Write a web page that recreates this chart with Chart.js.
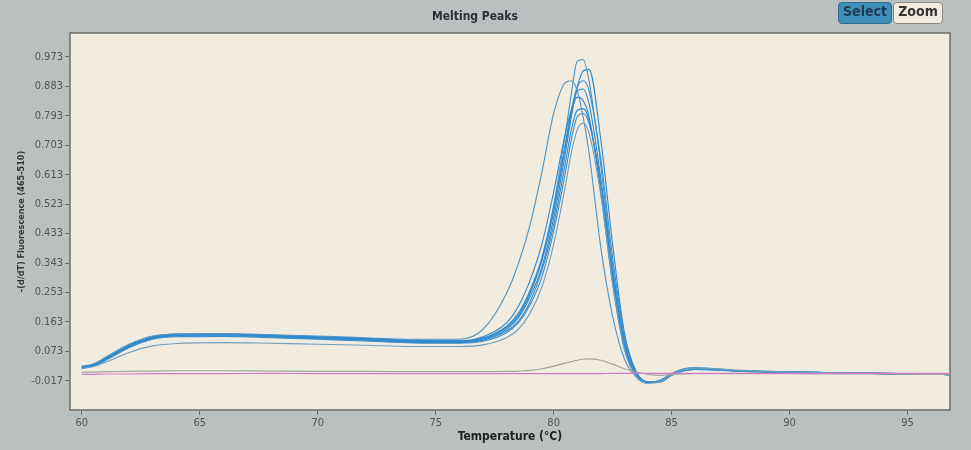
<!DOCTYPE html>
<html>
<head>
<meta charset="utf-8">
<script src="https://cdn.jsdelivr.net/npm/chart.js@4.4.1/dist/chart.umd.min.js"></script>
<style>
  html, body { margin: 0; padding: 0; background: #b9c0bf; }
  #wrap { position: relative; width: 971px; height: 450px; }
  canvas { display: block; }
  .btn {
    position: absolute; top: 2px; height: 20px; line-height: 20px;
    font: bold 14px "DejaVu Sans Condensed", "Liberation Sans Narrow", sans-serif;
    border-radius: 4px; text-align: center; color: #1d3a55;
  }
  #selectBtn { left: 838px; width: 52px; background: #3f8fb8; border: 1px solid #2f6f90; }
  #zoomBtn { left: 893px; width: 48px; background: #f2ece2; border: 1px solid #8a8a80; color: #333; }
</style>
</head>
<body>
<div id="wrap">
  <canvas id="meltChart" width="971" height="450"></canvas>
  <div class="btn" id="selectBtn">Select</div>
  <div class="btn" id="zoomBtn">Zoom</div>
</div>
<script>
// ---------------- DATA ----------------
const temps = [60, 60.5, 61, 62, 63, 64, 66, 68, 70, 72, 74, 76, 77, 78, 78.5, 79, 79.5, 80, 80.5, 80.75,
  81, 81.25, 81.5, 82, 82.5, 83, 83.5, 84, 84.5, 85, 85.5, 86, 88, 90, 92, 94, 96, 96.8];

const yTicks = [0.973, 0.883, 0.793, 0.703, 0.613, 0.523, 0.433, 0.343, 0.253, 0.163, 0.073, -0.017];
const xTicks = [60, 65, 70, 75, 80, 85, 90, 95];

// sample curves (blue)
const s1 = [0.025, 0.032, 0.05, 0.09, 0.117, 0.125, 0.126, 0.122, 0.117, 0.112, 0.106,
  0.106, 0.114, 0.15, 0.19, 0.26, 0.36, 0.52, 0.74, 0.86, 0.96, 0.965, 0.90, 0.64, 0.33, 0.10, 0.005, -0.022,
  -0.018, 0.003, 0.016, 0.02, 0.013, 0.01, 0.008, 0.006, 0.003, 0.002];
const s2 = [0.022, 0.03, 0.048, 0.088, 0.114, 0.122, 0.123, 0.119, 0.114, 0.109, 0.103,
  0.103, 0.11, 0.14, 0.175, 0.24, 0.33, 0.48, 0.68, 0.79, 0.88, 0.93, 0.935, 0.72, 0.40, 0.13, 0.012, -0.02,
  -0.02, 0.0, 0.014, 0.019, 0.013, 0.01, 0.008, 0.005, 0.003, 0.002];
const s3 = [0.028, 0.035, 0.055, 0.095, 0.12, 0.126, 0.127, 0.124, 0.12, 0.115, 0.11,
  0.11, 0.14, 0.25, 0.34, 0.46, 0.62, 0.80, 0.895, 0.9, 0.87, 0.79, 0.68, 0.39, 0.18, 0.05, -0.005, -0.02,
  -0.015, 0.006, 0.02, 0.024, 0.015, 0.011, 0.008, 0.006, 0.004, 0.003];
const s4 = [0.024, 0.031, 0.049, 0.089, 0.116, 0.124, 0.125, 0.121, 0.116, 0.111, 0.105,
  0.104, 0.112, 0.145, 0.18, 0.25, 0.35, 0.50, 0.70, 0.80, 0.87, 0.875, 0.83, 0.60, 0.30, 0.09, 0.0, -0.022,
  -0.018, 0.002, 0.015, 0.019, 0.013, 0.01, 0.008, 0.005, 0.003, 0.002];
const s5 = [0.026, 0.033, 0.052, 0.092, 0.118, 0.126, 0.127, 0.123, 0.118, 0.113, 0.107,
  0.105, 0.118, 0.16, 0.21, 0.29, 0.40, 0.56, 0.74, 0.81, 0.85, 0.84, 0.79, 0.56, 0.28, 0.08, -0.002, -0.022,
  -0.017, 0.004, 0.017, 0.021, 0.014, 0.01, 0.008, 0.006, 0.003, 0.002];
const s6 = [0.023, 0.03, 0.047, 0.086, 0.112, 0.12, 0.121, 0.117, 0.112, 0.107, 0.101,
  0.1, 0.107, 0.135, 0.165, 0.225, 0.32, 0.46, 0.65, 0.75, 0.81, 0.815, 0.78, 0.58, 0.31, 0.10, 0.005, -0.02,
  -0.019, 0.001, 0.014, 0.018, 0.012, 0.009, 0.007, 0.005, 0.003, 0.002];
const s7 = [0.021, 0.028, 0.045, 0.084, 0.11, 0.118, 0.119, 0.115, 0.11, 0.105, 0.099,
  0.098, 0.104, 0.13, 0.16, 0.215, 0.30, 0.44, 0.62, 0.72, 0.79, 0.80, 0.77, 0.59, 0.33, 0.11, 0.008, -0.02,
  -0.02, 0.0, 0.013, 0.018, 0.012, 0.009, 0.007, 0.005, 0.003, 0.002];
const s8 = [0.02, 0.027, 0.04, 0.07, 0.09, 0.097, 0.1, 0.098, 0.095, 0.092, 0.088,
  0.088, 0.093, 0.115, 0.14, 0.19, 0.27, 0.40, 0.58, 0.68, 0.75, 0.77, 0.74, 0.55, 0.28, 0.08, -0.005, -0.025,
  -0.02, 0.002, 0.016, 0.022, 0.014, 0.01, 0.008, 0.006, 0.004, 0.002];
const s9 = [0.025, 0.032, 0.05, 0.09, 0.116, 0.124, 0.125, 0.121, 0.116, 0.111, 0.104,
  0.103, 0.112, 0.148, 0.185, 0.255, 0.355, 0.51, 0.71, 0.81, 0.88, 0.90, 0.87, 0.66, 0.36, 0.12, 0.01, -0.02,
  -0.019, 0.002, 0.015, 0.02, 0.013, 0.01, 0.008, 0.005, 0.003, 0.002];

// negative control (grey) and blank (pink)
const sGrey = [0.01, 0.01, 0.011, 0.012, 0.013, 0.014, 0.014, 0.013, 0.012, 0.012, 0.011,
  0.011, 0.011, 0.012, 0.013, 0.015, 0.02, 0.028, 0.037, 0.042, 0.046, 0.049, 0.05, 0.046, 0.034, 0.02, 0.01, 0.003,
  0.0, 0.002, 0.004, 0.005, 0.005, 0.005, 0.004, 0.004, 0.003, 0.003];
const sPink = [0.003, 0.003, 0.004, 0.004, 0.005, 0.005, 0.005, 0.006, 0.005, 0.005, 0.005,
  0.005, 0.005, 0.005, 0.005, 0.005, 0.005, 0.005, 0.005, 0.005, 0.005, 0.005, 0.005, 0.005, 0.006, 0.006, 0.006, 0.006,
  0.006, 0.006, 0.006, 0.006, 0.006, 0.006, 0.006, 0.006, 0.006, 0.006];

// ---------------- BUILD DATASETS ----------------
function series(vals, color, width) {
  return {
    data: temps.map((t, i) => ({ x: t, y: vals[i] })),
    borderColor: color,
    borderWidth: width || 1.1,
    pointRadius: 0,
    fill: false,
    cubicInterpolationMode: "monotone"
  };
}

const datasets = [
  series(sPink, "#d27cc8", 1.2),
  series(sGrey, "#a3a39e", 1.2),
  series(s8, "#6e9fc0"),
  series(s3, "#4f95c6"),
  series(s7, "#3a8dcb"),
  series(s6, "#2c8ad0"),
  series(s5, "#2a86cc"),
  series(s4, "#2b8bd2"),
  series(s9, "#3590cf"),
  series(s2, "#2a88d0"),
  series(s1, "#4a93c9")
];

// ---------------- PLOT BACKGROUND ----------------
const plotBg = {
  id: "plotBg",
  beforeDraw(chart) {
    const { ctx, chartArea: a } = chart;
    ctx.save();
    ctx.fillStyle = "#f2ebdf";
    ctx.fillRect(a.left, a.top, a.right - a.left, a.bottom - a.top);
    ctx.strokeStyle = "#6b6b68";
    ctx.lineWidth = 1.5;
    ctx.strokeRect(a.left, a.top, a.right - a.left, a.bottom - a.top);
    ctx.restore();
  }
};

// ---------------- CHART ----------------
const ctx = document.getElementById("meltChart").getContext("2d");
new Chart(ctx, {
  type: "line",
  data: { datasets },
  plugins: [plotBg],
  options: {
    responsive: false,
    animation: false,
    layout: { padding: { left: 0, right: 21, top: 0, bottom: 0 } },
    plugins: {
      legend: { display: false },
      tooltip: { enabled: false },
      title: {
        display: true,
        text: "Melting Peaks",
        color: "#2a3038",
        font: { family: "DejaVu Sans Condensed, Liberation Sans Narrow, sans-serif", size: 12, weight: "bold" },
        padding: { top: 10, bottom: 8.6 }
      }
    },
    scales: {
      x: {
        type: "linear",
        min: 59.5,
        max: 96.8,
        afterBuildTicks: s => { s.ticks = xTicks.map(v => ({ value: v })); },
        afterFit: s => { s.height = 40; },
        grid: { drawOnChartArea: false, tickLength: 5, color: "#6b6b68" },
        border: { display: false },
        ticks: {
          color: "#555",
          padding: 2,
          font: { family: "DejaVu Sans Condensed, sans-serif", size: 11 }
        },
        title: {
          display: true,
          text: "Temperature (°C)",
          color: "#222",
          padding: { top: 0, bottom: 6 },
          font: { family: "DejaVu Sans Condensed, Liberation Sans Narrow, sans-serif", size: 12, weight: "bold" }
        }
      },
      y: {
        min: -0.106,
        max: 1.046,
        afterBuildTicks: s => { s.ticks = yTicks.map(v => ({ value: v })); },
        afterFit: s => { s.width = 70; },
        grid: { drawOnChartArea: false, tickLength: 5, color: "#6b6b68" },
        border: { display: false },
        ticks: {
          color: "#555",
          padding: 2,
          font: { family: "DejaVu Sans Condensed, sans-serif", size: 11 },
          callback: v => v.toFixed(3)
        },
        title: {
          display: true,
          text: "-(d/dT) Fluorescence (465-510)",
          color: "#333",
          padding: { top: 16, bottom: 2 },
          font: { family: "DejaVu Sans Condensed, Liberation Sans Narrow, sans-serif", size: 9, weight: "bold" }
        }
      }
    }
  }
});
</script>
</body>
</html>
